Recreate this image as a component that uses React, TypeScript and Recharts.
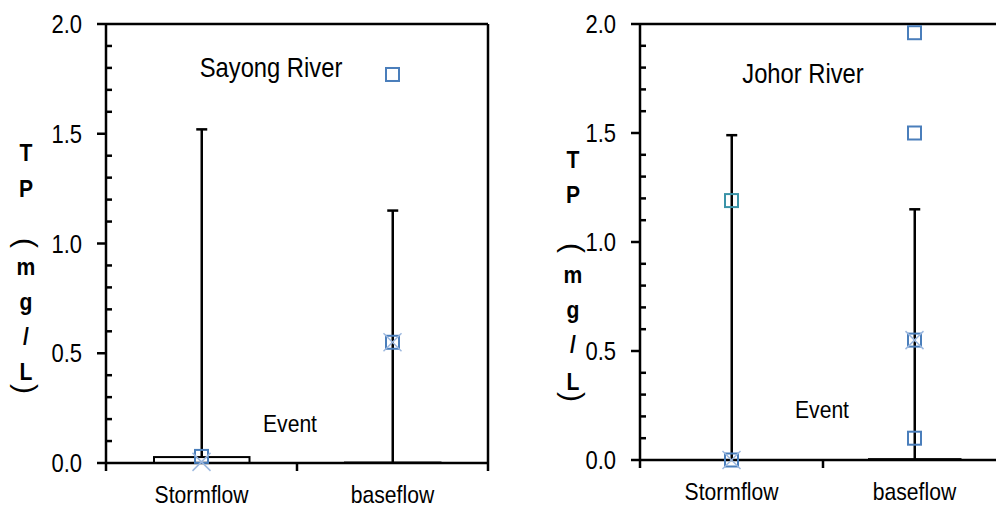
import React from 'react';
import { ComposedChart, Bar, Line, XAxis, YAxis, ReferenceLine } from 'recharts';

const categories = ['Stormflow', 'baseflow'];
const yTicks = [0, 0.1, 0.2, 0.3, 0.4, 0.5, 0.6, 0.7, 0.8, 0.9, 1.0, 1.1, 1.2, 1.3, 1.4, 1.5, 1.6, 1.7, 1.8, 1.9, 2.0];

// Sayong River
const sayongMin = [0, 0];
const sayongQ1 = [0, 0];
const sayongQ3 = [0.027, 0.002];
const sayongMax = [1.52, 1.15];
const sayongMean = [0.005, 0.55];
const sayongPoints = [[0.03], [0.55, 1.77]];

// Johor River
const johorMin = [0, 0];
const johorQ1 = [0, 0];
const johorQ3 = [0, 0.004];
const johorMax = [1.49, 1.15];
const johorMean = [0, 0.55];
const johorPoints = [[0, 1.19], [0.55, 1.96, 1.5, 0.1]];

const FONT = '"Liberation Sans", Arial, sans-serif';
const SQUEEZE = 0.88;
const AXIS = { stroke: '#000', strokeWidth: 2.5 };
const BLUE = '#4A7EBB';
const TEAL = '#3A93A8';
const XBLUE = '#9BB7DE';
const MAX_POINTS = 4;

const buildRows = (mins: number[], q1s: number[], q3s: number[], maxs: number[], means: number[], points: number[][]) =>
  categories.map((cat, i) => {
    const row: any = { cat, box: [q1s[i], q3s[i]], whisker: [mins[i], maxs[i]], mean: means[i] };
    for (let k = 0; k < MAX_POINTS; k++) row['p' + k] = points[i][k] ?? null;
    return row;
  });

const sayongRows = buildRows(sayongMin, sayongQ1, sayongQ3, sayongMax, sayongMean, sayongPoints);
const johorRows = buildRows(johorMin, johorQ1, johorQ3, johorMax, johorMean, johorPoints);

const NText = ({ x, y, size, weight = 400, anchor = 'middle', children }: any) => (
  <text
    transform={`translate(${x},${y}) scale(${SQUEEZE},1)`}
    textAnchor={anchor}
    fontSize={size}
    fontWeight={weight}
    fontFamily={FONT}
    fill="#000"
  >
    {children}
  </text>
);

const Paren = ({ x, y, ch }: any) => (
  <text
    transform={`translate(${x},${y}) rotate(90)`}
    textAnchor="middle"
    dy="0.27em"
    fontSize={30}
    fontFamily={FONT}
    fill="#000"
  >
    {ch}
  </text>
);

const ValueTick = (props: any) => {
  const { x, y, payload } = props;
  const v = payload.value;
  const major = Math.abs(v * 2 - Math.round(v * 2)) < 1e-6;
  return (
    <g>
      <line x1={major ? x - 9 : x} x2={major ? x : x + 6} y1={y} y2={y} stroke="#000" strokeWidth={2.5} />
      {major && (
        <NText x={x - 24} y={y} size={25} anchor="end">
          <tspan dy="0.36em">{v.toFixed(1)}</tspan>
        </NText>
      )}
    </g>
  );
};

const CatTick = (props: any) => {
  const { x, y, payload, index, halfBand } = props;
  const last = index === categories.length - 1;
  return (
    <g>
      <line x1={x - halfBand} x2={x - halfBand} y1={y} y2={y + 8} stroke="#000" strokeWidth={2.5} />
      {last && <line x1={x + halfBand} x2={x + halfBand} y1={y - 439} y2={y + 8} stroke="#000" strokeWidth={2.5} />}
      <NText x={x} y={y + 40} size={24}>
        {payload.value}
      </NText>
    </g>
  );
};

const Whisker = (props: any) => {
  const { x, y, width, height } = props;
  const top = Math.min(y, y + height);
  const bottom = Math.max(y, y + height);
  const cx = x + width / 2;
  return (
    <g>
      <line x1={cx} x2={cx} y1={top} y2={bottom} stroke="#000" strokeWidth={2.5} />
      <line x1={cx - 5.5} x2={cx + 5.5} y1={top} y2={top} stroke="#000" strokeWidth={2.5} />
    </g>
  );
};

const BoxShape = (props: any) => {
  const { x, y, width, height } = props;
  const top = Math.min(y, y + height);
  const h = Math.abs(height);
  return <rect x={x} y={top} width={width} height={h} fill="#fff" stroke="#000" strokeWidth={2} />;
};

const squareDot = (k: number, tealCats: string[]) => (props: any) => {
  const { cx, cy, value, index, payload } = props;
  if (value == null || cy == null || isNaN(cy)) return <g key={`p${k}-${index}`} />;
  const color = k >= 1 && tealCats.includes(payload.cat) ? TEAL : BLUE;
  return (
    <rect key={`p${k}-${index}`} x={cx - 6.5} y={cy - 6.5} width={13} height={13} fill="none" stroke={color} strokeWidth={2} />
  );
};

const crossDot = (props: any) => {
  const { cx, cy, value, index } = props;
  if (value == null || cy == null) return <g key={`m-${index}`} />;
  return (
    <g key={`m-${index}`}>
      <line x1={cx - 9} x2={cx + 9} y1={cy - 9} y2={cy + 9} stroke={XBLUE} strokeWidth={1.5} />
      <line x1={cx - 9} x2={cx + 9} y1={cy + 9} y2={cy - 9} stroke={XBLUE} strokeWidth={1.5} />
    </g>
  );
};

function Panel({ rows, width, height, margin, yAxisWidth, xAxisHeight, tealCats }: any) {
  const plotWidth = width - margin.left - margin.right - yAxisWidth;
  const halfBand = plotWidth / categories.length / 2;
  return (
    <ComposedChart width={width} height={height} data={rows} margin={margin}>
      <XAxis
        xAxisId="main"
        dataKey="cat"
        type="category"
        height={xAxisHeight}
        axisLine={AXIS}
        tickLine={false}
        tickSize={0}
        tickMargin={0}
        interval={0}
        tick={<CatTick halfBand={halfBand} />}
      />
      <XAxis xAxisId="w" dataKey="cat" type="category" hide />
      <YAxis
        yAxisId="v"
        type="number"
        domain={[0, 2]}
        ticks={yTicks}
        interval={0}
        width={yAxisWidth}
        axisLine={AXIS}
        tickLine={false}
        tickSize={0}
        tickMargin={0}
        tick={<ValueTick />}
      />
      <ReferenceLine xAxisId="main" yAxisId="v" y={2} stroke="#000" strokeWidth={2.5} />
      <Bar xAxisId="w" yAxisId="v" dataKey="whisker" barSize={halfBand} shape={<Whisker />} isAnimationActive={false} />
      <Bar xAxisId="main" yAxisId="v" dataKey="box" barSize={halfBand} shape={<BoxShape />} isAnimationActive={false} />
      {Array.from({ length: MAX_POINTS }, (_, k) => (
        <Line
          key={k}
          xAxisId="main"
          yAxisId="v"
          dataKey={`p${k}`}
          stroke="none"
          dot={squareDot(k, tealCats)}
          activeDot={false}
          isAnimationActive={false}
        />
      ))}
      <Line xAxisId="main" yAxisId="v" dataKey="mean" stroke="none" dot={crossDot} activeDot={false} isAnimationActive={false} />
    </ComposedChart>
  );
}

export default function App() {
  return (
    <div style={{ position: 'absolute', left: 0, top: 0, width: 996, height: 507, overflow: 'hidden', background: '#fff' }}>
      <div style={{ position: 'absolute', left: 0, top: 0 }}>
        <Panel
          rows={sayongRows}
          width={500}
          height={507}
          margin={{ top: 24, right: 12, bottom: 0, left: 0 }}
          yAxisWidth={106}
          xAxisHeight={44}
          tealCats={[]}
        />
      </div>
      <div style={{ position: 'absolute', left: 530, top: 0 }}>
        <Panel
          rows={johorRows}
          width={490}
          height={507}
          margin={{ top: 24, right: 14, bottom: 0, left: 0 }}
          yAxisWidth={110}
          xAxisHeight={47}
          tealCats={['Stormflow']}
        />
      </div>
      <svg width={996} height={507} style={{ position: 'absolute', left: 0, top: 0, pointerEvents: 'none' }}>
        <NText x={271} y={77} size={27}>Sayong River</NText>
        <NText x={290} y={432} size={24}>Event</NText>
        <NText x={803} y={83} size={27}>Johor River</NText>
        <NText x={822} y={418} size={24}>Event</NText>

        <NText x={26} y={161} size={24} weight={700}>T</NText>
        <NText x={26} y={197} size={24} weight={700}>P</NText>
        <Paren x={24} y={243} ch="(" />
        <NText x={26} y={275} size={24} weight={700}>m</NText>
        <NText x={26} y={310} size={24} weight={700}>g</NText>
        <NText x={26} y={345} size={24} weight={700}>/</NText>
        <NText x={26} y={380} size={24} weight={700}>L</NText>
        <Paren x={24} y={389} ch=")" />

        <NText x={573} y={168} size={24} weight={700}>T</NText>
        <NText x={573} y={203} size={24} weight={700}>P</NText>
        <Paren x={571} y={248} ch="(" />
        <NText x={573} y={283} size={24} weight={700}>m</NText>
        <NText x={573} y={318} size={24} weight={700}>g</NText>
        <NText x={573} y={353} size={24} weight={700}>/</NText>
        <NText x={573} y={390} size={24} weight={700}>L</NText>
        <Paren x={571} y={397} ch=")" />
      </svg>
    </div>
  );
}
